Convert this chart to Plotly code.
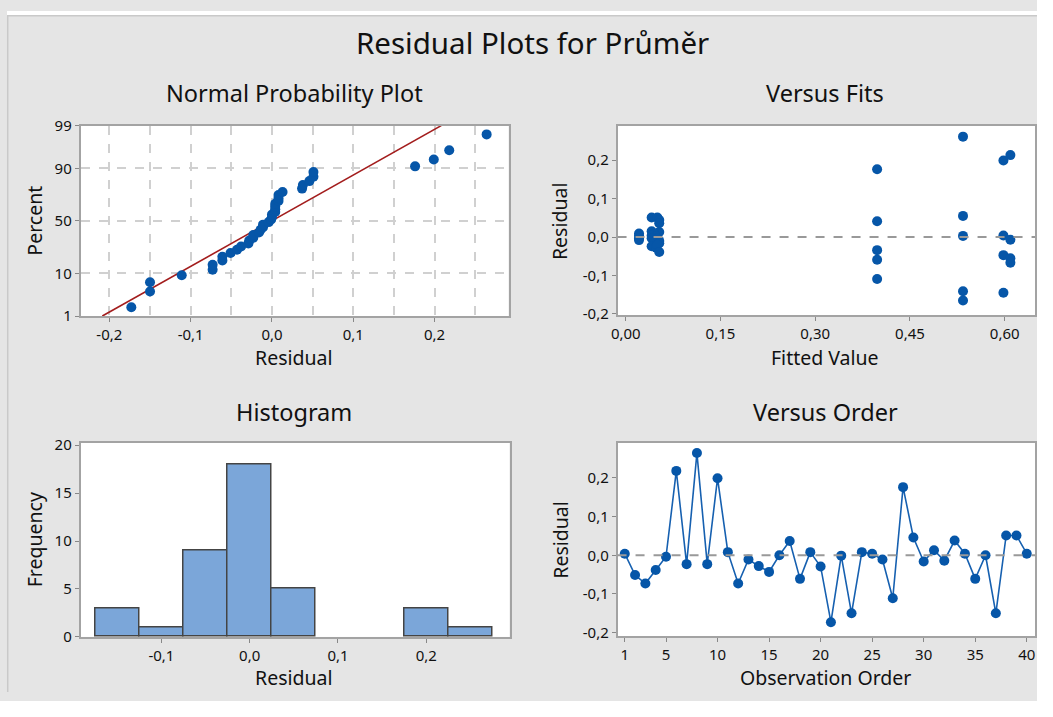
import numpy as np
import plotly.graph_objects as go
from statistics import NormalDist

# ---------------- data ----------------
observation_order = list(range(1, 41))
residuals = [0.004, -0.051, -0.073, -0.038, -0.004, 0.218, -0.023, 0.264, -0.023, 0.199,
             0.008, -0.073, -0.011, -0.028, -0.043, 0.000, 0.037, -0.061, 0.008, -0.029,
             -0.173, -0.001, -0.150, 0.008, 0.004, -0.011, -0.111, 0.176, 0.046, -0.016,
             0.013, -0.014, 0.038, 0.004, -0.061, 0.000, -0.150, 0.051, 0.051, 0.004]

fitted_values = [0.398, 0.398, 0.398, 0.398, 0.398,
                 0.534, 0.534, 0.534, 0.534, 0.534,
                 0.598, 0.598, 0.598, 0.598,
                 0.609, 0.609, 0.609, 0.609,
                 0.021, 0.021, 0.021, 0.021,
                 0.041, 0.050, 0.053, 0.053, 0.041, 0.053, 0.045, 0.041, 0.048,
                 0.041, 0.050, 0.053, 0.045, 0.053, 0.041, 0.048, 0.050, 0.053]
fitted_residuals = [0.176, 0.041, -0.034, -0.059, -0.109,
                    0.261, 0.055, 0.003, -0.141, -0.165,
                    0.199, 0.004, -0.047, -0.145,
                    0.213, -0.007, -0.055, -0.067,
                    0.009, 0.004, -0.003, -0.008,
                    0.051, 0.051, 0.044, 0.036, 0.015, 0.013, 0.008, 0.004, 0.002,
                    -0.003, -0.004, -0.010, -0.014, -0.016, -0.024, -0.028, -0.020, -0.039]

percent_ticks = [1, 10, 50, 90, 99]
npp_xticks = [-0.2, -0.1, 0.0, 0.1, 0.2]
fits_xticks = [0.00, 0.15, 0.30, 0.45, 0.60]
resid_yticks = [-0.2, -0.1, 0.0, 0.1, 0.2]
hist_xticks = [-0.1, 0.0, 0.1, 0.2]
hist_yticks = [0, 5, 10, 15, 20]
order_ticks = [1, 5, 10, 15, 20, 25, 30, 35, 40]

# ---------------- styling ----------------
OFF = 8                          # default page margin around the figure
W, H = 1053 - 2 * OFF, 717 - 2 * OFF
FONT = "Noto Sans, Open Sans, sans-serif"
BLUE = "#0656a8"
GRAY_BG = "#e5e5e5"
FRAME = "#a3a3a3"
TXT = "#111111"
GRIDC = "#d0d0d0"


def fmt(v, d):
    return f"{v:.{d}f}".replace(".", ",")


def px_x(p):
    return (p - OFF) / W


def px_y(p):
    return 1 - (p - OFF) / H


nd = NormalDist()
n = len(residuals)
sorted_res = np.sort(np.array(residuals))
probs = (np.arange(1, n + 1) - 0.3) / (n + 0.4)
zvals = np.array([nd.inv_cdf(p) for p in probs])
mu = float(np.mean(residuals))
sd = float(np.std(residuals, ddof=1))
zlo, zhi = nd.inv_cdf(0.01), nd.inv_cdf(0.99)
line_z = np.linspace(zlo, zhi, 50)
line_x = mu + sd * line_z

fig = go.Figure()

fig.add_trace(go.Scatter(x=line_x, y=line_z, mode="lines",
                         line=dict(color="#a31d1d", width=1.6),
                         xaxis="x", yaxis="y", hoverinfo="skip"))
fig.add_trace(go.Scatter(x=sorted_res, y=zvals, mode="markers",
                         marker=dict(color=BLUE, size=10),
                         xaxis="x", yaxis="y"))

fig.add_trace(go.Scatter(x=fitted_values, y=fitted_residuals, mode="markers",
                         marker=dict(color=BLUE, size=10),
                         xaxis="x2", yaxis="y2"))

fig.add_trace(go.Histogram(x=residuals, xbins=dict(start=-0.175, end=0.275, size=0.05),
                           marker=dict(color="#7ba6d9", line=dict(color="#444444", width=1.5)),
                           xaxis="x3", yaxis="y3"))

fig.add_trace(go.Scatter(x=observation_order, y=residuals, mode="lines+markers",
                         line=dict(color="#1660b0", width=1.6),
                         marker=dict(color=BLUE, size=10),
                         xaxis="x4", yaxis="y4"))

common_axis = dict(showline=True, linecolor=FRAME, linewidth=1.5, mirror=True,
                   ticks="outside", ticklen=4, tickcolor="#888888",
                   tickfont=dict(family=FONT, size=15, color=TXT),
                   zeroline=False, showgrid=False)
axis_nogrid = {k: v for k, v in common_axis.items() if k != "showgrid"}
grid = dict(showgrid=True, gridcolor=GRIDC, griddash="dash", gridwidth=1.5)

fig.update_layout(
    width=W, height=H,
    margin=dict(l=0, r=0, t=0, b=0),
    paper_bgcolor=GRAY_BG, plot_bgcolor="white",
    showlegend=False,
    bargap=0,
    font=dict(family=FONT, color=TXT),
    xaxis=dict(domain=[px_x(82), px_x(513)], range=[-0.2355, 0.291], anchor="y",
               tickvals=npp_xticks, ticktext=[fmt(v, 1) for v in npp_xticks],
               minor=dict(dtick=0.05, tick0=0, showgrid=True, gridcolor=GRIDC,
                          griddash="dash", gridwidth=1.5, ticklen=0),
               **grid, **axis_nogrid),
    yaxis=dict(domain=[px_y(322), px_y(126)], range=[zlo, zhi], anchor="x",
               tickvals=[nd.inv_cdf(p / 100) for p in percent_ticks],
               ticktext=[str(p) for p in percent_ticks],
               **grid, **axis_nogrid),
    xaxis2=dict(domain=[px_x(622.7), px_x(1043)], range=[-0.013, 0.648], anchor="y2",
                tickvals=fits_xticks, ticktext=[fmt(v, 2) for v in fits_xticks],
                **common_axis),
    yaxis2=dict(domain=[px_y(321), px_y(126)], range=[-0.2028, 0.2896], anchor="x2",
                tickvals=resid_yticks, ticktext=[fmt(v, 1) for v in resid_yticks],
                **common_axis),
    xaxis3=dict(domain=[px_x(82), px_x(514)], range=[-0.1917, 0.2944], anchor="y3",
                tickvals=hist_xticks, ticktext=[fmt(v, 1) for v in hist_xticks],
                **common_axis),
    yaxis3=dict(domain=[px_y(652.3), px_y(452.3)], range=[0, 20.27], anchor="x3",
                tickvals=hist_yticks, **common_axis),
    xaxis4=dict(domain=[px_x(622.7), px_x(1043)], range=[0.3, 40.8], anchor="y4",
                tickvals=order_ticks, **common_axis),
    yaxis4=dict(domain=[px_y(651.7), px_y(452.7)], range=[-0.2095, 0.290], anchor="x4",
                tickvals=resid_yticks, ticktext=[fmt(v, 1) for v in resid_yticks],
                **common_axis),
)

shapes = [
    dict(type="rect", xref="paper", yref="paper", x0=0, x1=1, y0=px_y(13), y1=1,
         fillcolor="white", line=dict(width=0), layer="below"),
    dict(type="line", xref="paper", yref="paper", x0=0, x1=1, y0=px_y(13), y1=px_y(13),
         line=dict(color="#c9c9c9", width=1.5)),
    dict(type="line", xref="paper", yref="paper", x0=0.0007, x1=0.0007, y0=0, y1=px_y(13),
         line=dict(color="#c9c9c9", width=1.5)),
    dict(type="line", xref="x2 domain", yref="y2", x0=0, x1=1, y0=0, y1=0,
         line=dict(color="#999999", width=2, dash="dash")),
    dict(type="line", xref="x4 domain", yref="y4", x0=0, x1=1, y0=0, y1=0,
         line=dict(color="#999999", width=2, dash="dash")),
]
fig.update_layout(shapes=shapes)

ann = []


def add_text(text, x, y, size, angle=0):
    ann.append(dict(text=text, x=px_x(x), y=px_y(y), xref="paper", yref="paper",
                    showarrow=False, xanchor="center", yanchor="middle", textangle=angle,
                    font=dict(family=FONT, size=size, color="#111111")))


add_text("Residual Plots for Průměr", 537, 40, 29.5)
add_text("Normal Probability Plot", 297, 92, 23.5)
add_text("Versus Fits", 832, 92, 23.5)
add_text("Histogram", 297, 421, 23.5)
add_text("Versus Order", 832, 421, 23.5)
add_text("Residual", 297, 365, 19.5)
add_text("Percent", 36, 224, 19.5, -90)
add_text("Fitted Value", 832, 365, 19.5)
add_text("Residual", 565, 224, 19.5, -90)
add_text("Residual", 297, 694, 19.5)
add_text("Frequency", 36, 552, 19.5, -90)
add_text("Observation Order", 832, 694, 19.5)
add_text("Residual", 565, 552, 19.5, -90)
fig.update_layout(annotations=ann)

fig.write_html("out.html")
